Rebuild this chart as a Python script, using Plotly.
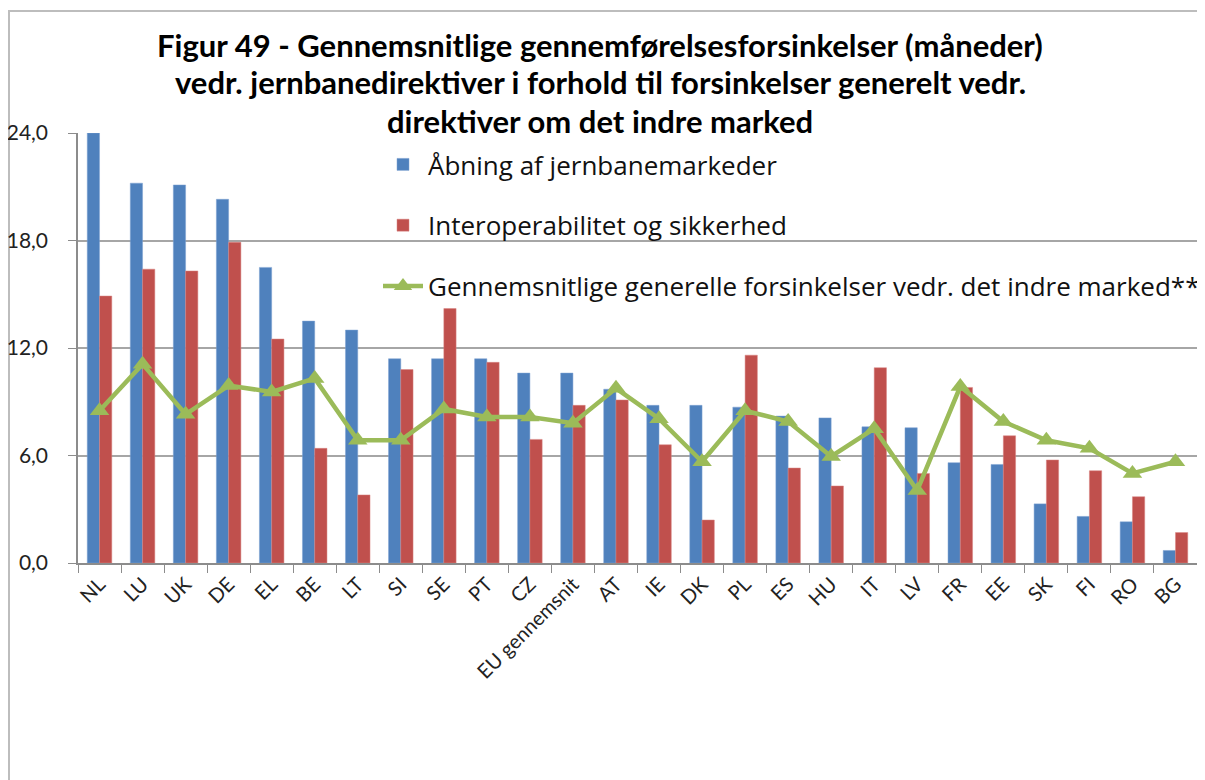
import plotly.graph_objects as go

categories = ["NL", "LU", "UK", "DE", "EL", "BE", "LT", "SI", "SE", "PT", "CZ",
              "EU gennemsnit", "AT", "IE", "DK", "PL", "ES", "HU", "IT", "LV",
              "FR", "EE", "SK", "FI", "RO", "BG"]
aabning = [24.0, 21.2, 21.1, 20.3, 16.5, 13.5, 13.0, 11.4, 11.4, 11.4, 10.6,
           10.6, 9.7, 8.8, 8.8, 8.7, 8.2, 8.1, 7.6, 7.55,
           5.6, 5.5, 3.3, 2.6, 2.3, 0.7]
interop = [14.9, 16.4, 16.3, 17.9, 12.5, 6.4, 3.8, 10.8, 14.2, 11.2, 6.9,
           8.8, 9.1, 6.6, 2.4, 11.6, 5.3, 4.3, 10.9, 5.0,
           9.8, 7.1, 5.75, 5.15, 3.7, 1.7]
generelle = [8.5, 11.1, 8.3, 9.9, 9.55, 10.3, 6.85, 6.85, 8.6, 8.15, 8.15,
             7.8, 9.75, 8.05, 5.65, 8.5, 7.9, 5.95, 7.5, 4.05,
             9.85, 7.9, 6.85, 6.4, 5.0, 5.65]
names = ["Åbning af jernbanemarkeder", "Interoperabilitet og sikkerhed",
         "Gennemsnitlige generelle forsinkelser vedr. det indre marked**"]
title_lines = ["Figur 49 - Gennemsnitlige gennemførelsesforsinkelser (måneder)",
               "vedr. jernbanedirektiver i forhold til forsinkelser generelt vedr.",
               "direktiver om det indre marked"]

# page offset (body margin) -> work in screen coordinates
OFF = 8
W, H = 1197, 772
plot_left, plot_right, plot_top, plot_bottom = 78, 1197, 133, 563
L = plot_left - OFF
R = W - (plot_right - OFF)
T = plot_top - OFF
B = H - (plot_bottom - OFF)
pw, ph = W - L - R, H - T - B

def px(x):
    return (x - plot_left) / pw

def py(y):
    return (plot_bottom - y) / ph

fig = go.Figure()
fig.add_trace(go.Bar(x=categories, y=aabning, name=names[0], legendgroup="a",
                     marker=dict(color="#4F81BD", line=dict(color="#7FA3D3", width=0.5))))
fig.add_trace(go.Bar(x=categories, y=interop, name=names[1], legendgroup="b",
                     marker=dict(color="#C0504D", line=dict(color="#D88583", width=0.5))))
fig.add_trace(go.Scatter(x=categories, y=generelle, name=names[2], legendgroup="c",
                         mode="lines+markers",
                         line=dict(color="#9BBB59", width=4.5),
                         marker=dict(symbol="triangle-up", size=17, color="#9BBB59")))

font_family = "Lato, 'Open Sans', sans-serif"
annotations = []
for txt, yc in zip(title_lines, [45, 82, 121]):
    annotations.append(dict(text="<b>" + txt + "</b>", x=px(600), y=py(yc),
                            xref="paper", yref="paper", showarrow=False,
                            xanchor="center", yanchor="middle",
                            font=dict(family=font_family, size=31, color="#000000")))

fig.update_layout(
    width=W, height=H,
    margin=dict(l=L, r=R, t=T, b=B, autoexpand=False),
    paper_bgcolor="white", plot_bgcolor="white",
    separators=",.",
    barmode="group", bargap=0.43, bargroupgap=0,
    font=dict(family=font_family, size=20, color="#222222"),
    legend=dict(x=px(378), y=py(141), xanchor="left", yanchor="top",
                bgcolor="rgba(0,0,0,0)",
                font=dict(family="'Open Sans', Lato, sans-serif", size=26, color="#111111"),
                tracegroupgap=24, traceorder="grouped", itemwidth=40),
    annotations=annotations,
    shapes=[dict(type="rect", xref="paper", yref="paper",
                 x0=px(9), x1=px(1240), y0=py(800), y1=py(11),
                 line=dict(color="#BDBDBD", width=2), layer="below")],
)
fig.update_xaxes(type="category", range=[-0.5, len(categories) - 0.5],
                 tickangle=-45, ticks="outside", tickson="boundaries",
                 ticklen=8, tickcolor="#8C8C8C", showline=True, linecolor="#8C8C8C",
                 linewidth=1.5, automargin=False, tickfont=dict(size=20, color="#222222"))
fig.update_yaxes(range=[0, 24], dtick=6, tickformat=".1f", showgrid=True,
                 gridcolor="#A6A6A6", gridwidth=1.5, showline=True,
                 linecolor="#8C8C8C", linewidth=1.5, ticks="outside", ticklen=8,
                 tickcolor="#8C8C8C", zeroline=False, automargin=False,
                 ticklabelstandoff=16,
                 tickfont=dict(size=21, color="#222222"))

fig.write_html("out.html")
